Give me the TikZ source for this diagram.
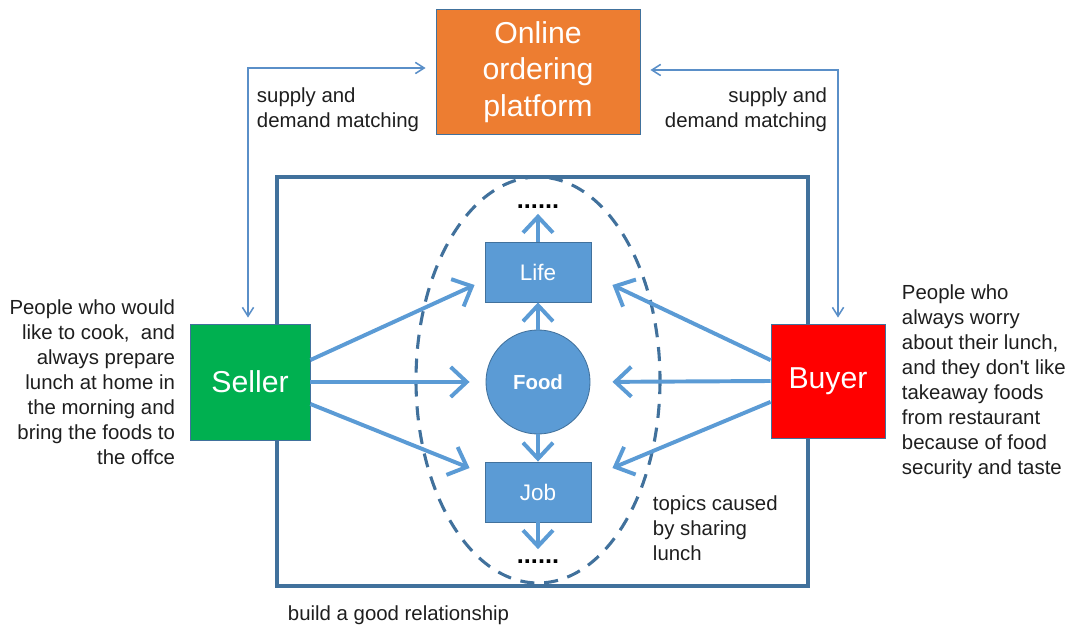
\documentclass[tikz,border=0pt]{standalone}
\usepackage{fontspec}
\setmainfont{Liberation Sans}[Ligatures = TeXOff]
\usetikzlibrary{arrows.meta}
\usetikzlibrary{calc}
\definecolor{platformorange}{HTML}{ED7D31}
\definecolor{sellergreen}{HTML}{00B050}
\definecolor{buyerred}{HTML}{FF0000}
\definecolor{topicblue}{HTML}{5B9BD5}
\definecolor{frameblue}{HTML}{41719C}
\definecolor{linkblue}{HTML}{5A8FC8}
\definecolor{notegray}{HTML}{1E1E1E}

\begin{document}
\begin{tikzpicture}[x = 0.025cm, y = -0.025cm,
    box/.style = {draw = frameblue, line width = 0.6pt, inner sep = 0pt, align = center, text = white},
    bigbox/.style = {box, font = \fontsize{21.5}{26}\selectfont},
    topic/.style = {box, fill = topicblue, minimum width = 2.65cm, minimum height = 1.5cm, font = \fontsize{16}{19}\selectfont},
    thinlink/.style = {draw = linkblue, line width = 1.1pt, {Straight Barb[length = 2.2mm, width = 2.8mm]}-{Straight Barb[length = 2.2mm, width = 2.8mm]}},
    flow/.style = {draw = topicblue, line width = 2.8pt, -{Straight Barb[length = 4mm, width = 7.5mm]}},
    more/.style = {font = \fontsize{18}{20}\selectfont\bfseries},
    note/.style = {text = notegray, font = \fontsize{14.5}{17.8}\selectfont}]
    \useasboundingbox (0, 0) rectangle (1071, 628);
    \draw [frameblue, line width = 2.8pt] (277, 177) rectangle (808, 586);
    \draw [frameblue, line width = 2.2pt, dash pattern = on 10pt off 7pt] (538, 380) ellipse [x radius = 122, y radius = 203];
    \node [bigbox, fill = platformorange, minimum width = 5.1cm, minimum height = 3.125cm] (platform) at (538, 72) {Online\\ordering\\platform};
    \node [bigbox, fill = sellergreen, minimum width = 3cm, minimum height = 2.9cm] (seller) at (250, 382) {Seller};
    \node [bigbox, fill = buyerred, minimum width = 2.85cm, minimum height = 2.85cm] (buyer) at (828, 381) {Buyer};
    \node [topic] (life) at (538, 272) {Life};
    \node [topic] (job) at (538, 492) {Job};
    \node [box, circle, fill = topicblue, minimum size = 2.6cm, font = \fontsize{14.5}{17}\selectfont\bfseries] (food) at (538, 382) {Food};
    \node [more] (moreup) at (538, 207) {......};
    \node [more] (moredown) at (538, 562) {......};
    \draw [thinlink, shorten < = 0.25cm] ([yshift = 0.1cm]platform.west) -| ([xshift = -0.05cm, yshift = 0.15cm]seller.north);
    \draw [thinlink, shorten < = 0.25cm] ([yshift = 0.05cm]platform.east) -| ([xshift = 0.25cm, yshift = 0.15cm]buyer.north);
    \draw [flow] (seller.20) -- ($(life.west) + (-10, 13)$);
    \draw [flow, shorten > = 0.4cm] (seller.east) -- (food.west);
    \draw [flow] (seller.-20) -- ($(job.west) + (-15, -24)$);
    \draw [flow] (buyer.160) -- ($(life.east) + (21, 13)$);
    \draw [flow, shorten > = 0.55cm] (buyer.west) -- (food.east);
    \draw [flow] (buyer.-160) -- ($(job.east) + (21, -24)$);
    \draw [flow] (food.north) -- (life.south);
    \draw [flow] (food.south) -- (job.north);
    \draw [flow] (life.north) -- (moreup.south);
    \draw [flow, shorten > = 0.15cm] (job.south) -- (moredown.north);
    \node [note, anchor = west, align = left] (supplyleft) at (252, 110) {supply and\\demand matching};
    \node [note, anchor = east, align = right] (supplyright) at (832, 110) {supply and\\demand matching};
    \node [note, anchor = west, align = left] (topics) at (648, 528) {topics caused\\by sharing\\lunch};
    \node [note, anchor = west] (relation) at (283, 615) {build a good relationship};
    \node [note, anchor = east, align = right] (sellernote) at (180, 382) {People who would\\like to cook,\ \ and\\always prepare\\lunch at home in\\the morning and\\bring the foods to\\the offce};
    \node [note, anchor = west, align = left] (buyernote) at (897, 382) {People who\\always worry\\about their lunch,\\and they don't like\\takeaway foods\\from restaurant\\because of food\\security and taste};
\end{tikzpicture}
\end{document}
